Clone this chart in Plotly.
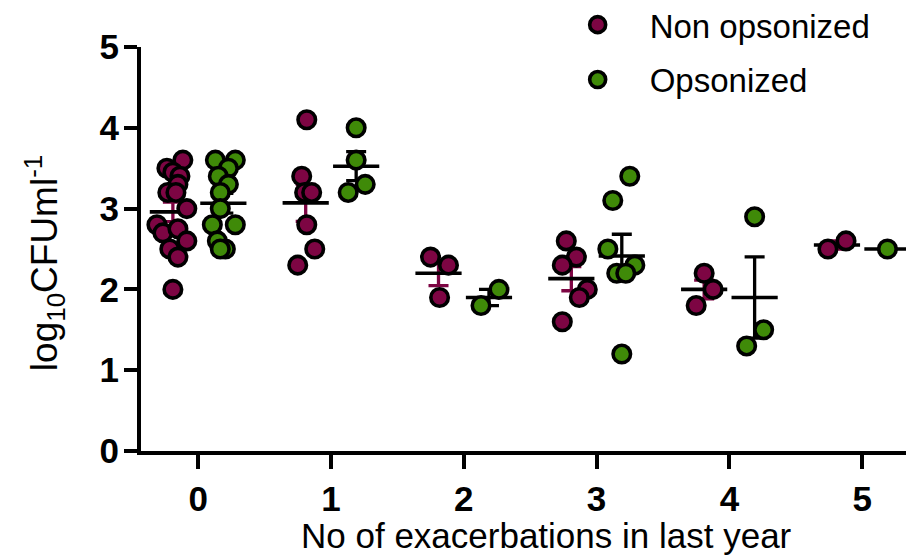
import numpy as np
import plotly.graph_objects as go

# ---------------- data ----------------
categories = [0, 1, 2, 3, 4, 5]
tick_labels = ["0", "1", "2", "3", "4", "5"]

# Non opsonized values per exacerbation count, with horizontal jitter (category units)
non_vals = {
    0: [3.6, 3.5, 3.45, 3.4, 3.3, 3.2, 3.2, 3.0, 2.8, 2.7, 2.75, 2.6, 2.5, 2.4, 2.0],
    1: [4.1, 3.4, 3.2, 3.2, 2.8, 2.5, 2.3],
    2: [2.4, 2.3, 1.9],
    3: [2.6, 2.4, 2.3, 2.0, 1.9, 1.6],
    4: [2.2, 2.0, 1.8],
    5: [2.5, 2.6],
}
non_jit = {
    0: [0.075, -0.045, 0.0, 0.053, 0.038, -0.038, 0.023, 0.105, -0.12, -0.075, 0.038, 0.105, -0.023, 0.038, 0.0],
    1: [0.008, -0.03, -0.008, 0.045, 0.008, 0.068, -0.06],
    2: [-0.06, 0.075, 0.008],
    3: [-0.038, 0.038, -0.068, 0.12, 0.06, -0.068],
    4: [0.0, 0.068, -0.06],
    5: [-0.068, 0.068],
}
ops_vals = {
    0: [3.6, 3.6, 3.5, 3.4, 3.3, 3.2, 3.0, 2.8, 2.8, 2.6, 2.5, 2.5],
    1: [4.0, 3.6, 3.3, 3.2],
    2: [2.0, 1.8],
    3: [3.4, 3.1, 2.5, 2.3, 2.2, 2.2, 1.2],
    4: [2.9, 1.5, 1.3],
    5: [2.5],
}
ops_jit = {
    0: [-0.06, 0.09, 0.038, -0.038, 0.038, -0.023, -0.023, -0.083, 0.09, -0.045, 0.015, -0.023],
    1: [0.0, 0.0, 0.068, -0.06],
    2: [0.075, -0.06],
    3: [0.06, -0.068, -0.105, 0.098, -0.038, 0.03, 0.0],
    4: [0.0, 0.068, -0.06],
    5: [0.0],
}

# ---------------- style ----------------
PURPLE = "#7D0543"
GREEN = "#3F8A08"
OFFSET = 0.19
FONT = "Liberation Sans, Arial, sans-serif"

fig = go.Figure()

def stats(vals):
    a = np.array(vals, dtype=float)
    m = a.mean()
    s = a.std(ddof=1) / np.sqrt(len(a)) if len(a) > 1 else 0.0
    return m, s

for vals, sign, ecol in [(non_vals, -1, PURPLE), (ops_vals, 1, "black")]:
    xs, ms, ss = [], [], []
    for c in categories:
        m, s = stats(vals[c])
        xs.append(c + sign * OFFSET)
        ms.append(m)
        ss.append(s)
    # error bars (SEM)
    fig.add_trace(go.Scatter(
        x=xs, y=ms, mode="markers",
        marker=dict(size=1, color="rgba(0,0,0,0)"),
        error_y=dict(type="data", array=ss, visible=True, color=ecol, thickness=3.3, width=10),
        showlegend=False, hoverinfo="skip"))
    # mean line
    fig.add_trace(go.Scatter(
        x=xs, y=ms, mode="markers",
        marker=dict(symbol="line-ew", size=33, line=dict(width=3.6, color="black")),
        showlegend=False, hoverinfo="skip"))

for name, vals, jit, sign, col, grp in [("Non opsonized", non_vals, non_jit, -1, PURPLE, "a"),
                                        ("Opsonized", ops_vals, ops_jit, 1, GREEN, "b")]:
    xs, ys = [], []
    for c in categories:
        for v, j in zip(vals[c], jit[c]):
            xs.append(c + sign * OFFSET + j)
            ys.append(v)
    fig.add_trace(go.Scatter(
        x=xs, y=ys, mode="markers", name=name, legendgroup=grp,
        marker=dict(size=17.5, color=col, line=dict(width=3.6, color="black"))))

fig.update_layout(
    width=906, height=550,
    margin=dict(l=133, r=0, t=39, b=107, autoexpand=False),
    paper_bgcolor="white", plot_bgcolor="white",
    font=dict(family=FONT, color="black"),
    showlegend=True,
    legend=dict(x=0.5235, y=1.1245, xanchor="left", yanchor="top",
                font=dict(size=33, family=FONT), tracegroupgap=9,
                itemwidth=94, bgcolor="rgba(0,0,0,0)"),
    xaxis=dict(range=[-0.43, 5.39], tickmode="array", tickvals=categories, ticktext=tick_labels,
               showgrid=False, zeroline=False, showline=True, linewidth=4, linecolor="black",
               ticks="outside", ticklen=14, tickwidth=4, tickcolor="black",
               tickfont=dict(size=35, family=FONT, color="black", weight="bold")),
    yaxis=dict(range=[0, 5], tickvals=[0, 1, 2, 3, 4, 5], showgrid=False, zeroline=False,
               showline=True, linewidth=4, linecolor="black",
               ticks="outside", ticklen=13, tickwidth=4, tickcolor="black",
               ticklabelstandoff=-2,
               tickfont=dict(size=35, family=FONT, color="black", weight="bold")),
)

fig.add_annotation(text="No of exacerbations in last year", xref="paper", yref="paper",
                   x=0.525, y=-0.21, xanchor="center", yanchor="middle", showarrow=False,
                   font=dict(size=35, family=FONT, color="black"))
fig.add_annotation(text="log<sub>10</sub>CFUml<sup>-1</sup>", xref="paper", yref="paper",
                   x=-0.1255, y=0.465, xanchor="center", yanchor="middle", showarrow=False,
                   textangle=-90, font=dict(size=37, family=FONT, color="black"))

fig.write_html("out.html")
